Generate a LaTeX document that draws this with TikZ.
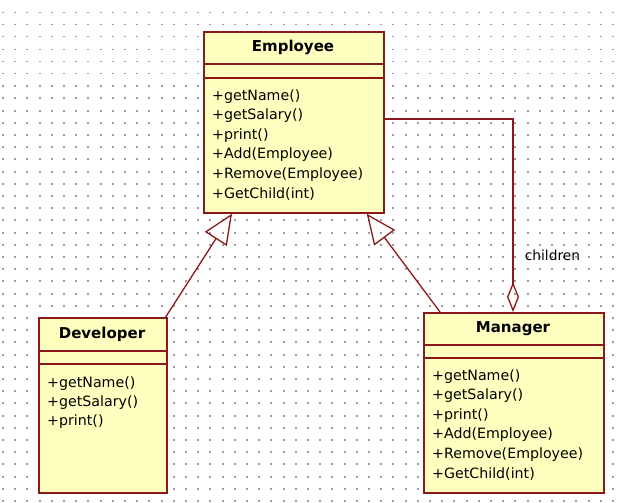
\documentclass[tikz,border=0pt]{standalone}
\usepackage{fontspec}
\setmainfont{DejaVu Sans}
\usetikzlibrary{arrows.meta}
\definecolor{umlline}{RGB}{140,25,25}
\definecolor{umlfill}{RGB}{255,255,192}
\definecolor{griddot}{RGB}{160,150,175}
\tikzset{
  classbox/.style={draw=umlline, fill=umlfill, line width=1.7pt, rectangle, inner sep=0pt, anchor=north west},
  sepline/.style={draw=umlline, line width=1.4pt},
  classtitle/.style={font=\fontsize{15}{18}\selectfont\bfseries, inner sep=0pt},
  member/.style={font=\fontsize{14.2}{16}\selectfont, inner sep=0pt, anchor=base west},
  conn/.style={draw=umlline, line width=1.3pt},
  gen/.style={conn, -{Triangle[open, length=30pt, width=26pt, line width=1.3pt]}},
  agg/.style={conn, -{Diamond[open, length=30pt, width=12pt, line width=1.3pt]}},
  lbl/.style={font=\fontsize{13.8}{16}\selectfont, inner sep=0pt},
}
\begin{document}
\begin{tikzpicture}[x=1pt,y=-1pt]
\useasboundingbox (0,0) rectangle (621,503);
\fill[white] (0,0) rectangle (621,503);
\foreach \i in {0,...,50}{\foreach \j in {0,...,40}{\fill[griddot] ({round(2+12.2*\i)},{round(12+12.2*\j)}) rectangle ++(1.5,1.5);}}

% Employee
\node[classbox, minimum width=180pt, minimum height=181pt] (emp) at (203,31) {};
\draw[sepline] ([yshift=-33pt]emp.north west) -- ([yshift=-33pt]emp.north east);
\draw[sepline] ([yshift=-47pt]emp.north west) -- ([yshift=-47pt]emp.north east);
\node[classtitle] (empT) at (293,47.5) {Employee};
\foreach \t [count=\i] in {+getName(),+getSalary(),+print(),+Add(Employee),+Remove(Employee),+GetChild(int)}
  \node[member] (emp\i) at (212,{100+19.6*(\i-1)}) {\t};

% Developer
\node[classbox, minimum width=128pt, minimum height=175pt] (dev) at (38,317) {};
\draw[sepline] ([yshift=-34pt]dev.north west) -- ([yshift=-34pt]dev.north east);
\draw[sepline] ([yshift=-47pt]dev.north west) -- ([yshift=-47pt]dev.north east);
\node[classtitle] (devT) at (102,334) {Developer};
\foreach \t [count=\i] in {+getName(),+getSalary(),+print()}
  \node[member] (dev\i) at (47,{387+19*(\i-1)}) {\t};

% Manager
\node[classbox, minimum width=180pt, minimum height=180pt] (mgr) at (423,312) {};
\draw[sepline] ([yshift=-33pt]mgr.north west) -- ([yshift=-33pt]mgr.north east);
\draw[sepline] ([yshift=-46pt]mgr.north west) -- ([yshift=-46pt]mgr.north east);
\node[classtitle] (mgrT) at (513,328.5) {Manager};
\foreach \t [count=\i] in {+getName(),+getSalary(),+print(),+Add(Employee),+Remove(Employee),+GetChild(int)}
  \node[member] (mgr\i) at (432,{380+19.6*(\i-1)}) {\t};

% Connectors
\draw[gen] ([xshift=-2pt]dev.north east) -- ([xshift=29pt]emp.south west);
\draw[gen] ([xshift=17pt]mgr.north west) -- ([xshift=-18pt]emp.south east);
\draw[agg] ([yshift=3.5pt]emp.east) -| ([xshift=90pt]mgr.north west);
\node[lbl] (children) at (552.5,255) {children};
\end{tikzpicture}
\end{document}
